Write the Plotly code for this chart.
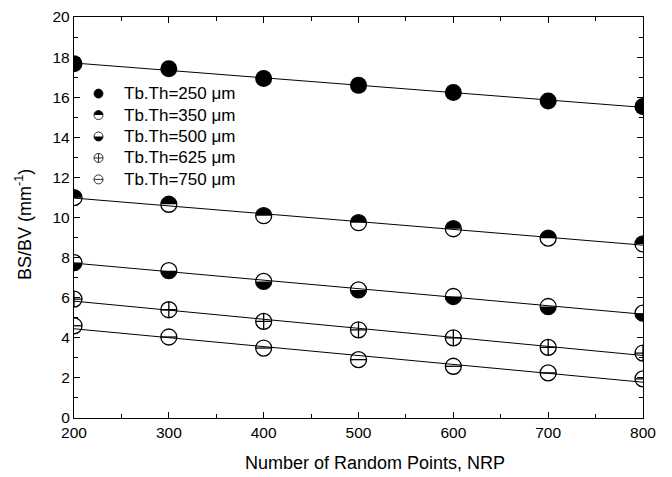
import numpy as np
import plotly.graph_objects as go

# ---- data ----
nrp = [200, 300, 400, 500, 600, 700, 800]
bsbv_250 = [17.67, 17.42, 16.93, 16.59, 16.24, 15.81, 15.53]
bsbv_350 = [10.99, 10.66, 10.09, 9.74, 9.44, 8.97, 8.68]
bsbv_500 = [7.75, 7.35, 6.81, 6.39, 6.06, 5.56, 5.23]
bsbv_625 = [5.93, 5.40, 4.82, 4.40, 4.00, 3.52, 3.24]
bsbv_750 = [4.60, 4.04, 3.49, 2.91, 2.58, 2.25, 1.95]
legend_labels = ["Tb.Th=250 μm", "Tb.Th=350 μm", "Tb.Th=500 μm",
                 "Tb.Th=625 μm", "Tb.Th=750 μm"]
x_ticks = [200, 300, 400, 500, 600, 700, 800]
y_ticks = [0, 2, 4, 6, 8, 10, 12, 14, 16, 18, 20]

series = [bsbv_250, bsbv_350, bsbv_500, bsbv_625, bsbv_750]
styles = ["full", "top", "bottom", "cross", "hline"]

FONT = "Liberation Sans, Arial, sans-serif"
fig = go.Figure()

# fitted lines
for ys in series:
    k, b = np.polyfit(nrp, ys, 1)
    xl = [x_ticks[0], x_ticks[-1]]
    fig.add_trace(go.Scatter(x=xl, y=[k * v + b for v in xl], mode="lines",
                             line=dict(color="black", width=1), showlegend=False,
                             hoverinfo="skip"))

R = 8  # marker radius in px


def half_path(r, top):
    th = np.linspace(0, np.pi, 25)
    sgn = 1 if top else -1
    pts = [(r * np.cos(t), sgn * r * np.sin(t)) for t in th]
    return "M " + " L ".join(f"{px:.2f},{py:.2f}" for px, py in pts) + " Z"


shapes = []
for ys, st, lab in zip(series, styles, legend_labels):
    if st == "full":
        fig.add_trace(go.Scatter(x=nrp, y=ys, mode="markers", name=lab,
                                 marker=dict(symbol="circle", size=2 * R + 1, color="black"),
                                 showlegend=False))
    else:
        sym = "circle-cross-open" if st == "cross" else "circle-open"
        fig.add_trace(go.Scatter(x=nrp, y=ys, mode="markers", name=lab,
                                 marker=dict(symbol=sym, size=2 * R, color="black",
                                             line=dict(width=1.3, color="black")),
                                 showlegend=False))
        if st == "hline":
            # plotly's line-ew half-length is 1.4*r, so shrink to fit the circle
            fig.add_trace(go.Scatter(x=nrp, y=ys, mode="markers", showlegend=False,
                                     marker=dict(symbol="line-ew-open", size=2 * R / 1.4,
                                                 color="black",
                                                 line=dict(width=1.3, color="black"))))
        if st in ("top", "bottom"):
            for xv, yv in zip(nrp, ys):
                shapes.append(dict(type="path", xref="x", yref="y",
                                   xsizemode="pixel", ysizemode="pixel",
                                   xanchor=xv, yanchor=yv,
                                   path=half_path(R - 0.3, st == "top"),
                                   fillcolor="black", line=dict(width=0),
                                   layer="above"))

# ---- custom legend (paper coords) ----
PL, PR, PT, PB = 74, 643, 16.5, 418.5
pw, ph = PR - PL, PB - PT
leg_x_px = 98.5
leg_text_px = 122
leg_y_px = [93.3, 114.8, 136.3, 157.8, 179.3]
r = 4.5
annotations = []
for lab, st, lyp in zip(legend_labels, styles, leg_y_px):
    xa = (leg_x_px - PL) / pw
    ya = (PB - lyp) / ph
    base = dict(xref="paper", yref="paper", xsizemode="pixel", ysizemode="pixel",
                xanchor=xa, yanchor=ya)
    shapes.append(dict(type="circle", x0=-r, x1=r, y0=-r, y1=r,
                       fillcolor="black" if st == "full" else "rgba(0,0,0,0)",
                       line=dict(color="black", width=0.8), **base))
    if st in ("top", "bottom"):
        shapes.append(dict(type="path", path=half_path(r, st == "top"),
                           fillcolor="black", line=dict(width=0), **base))
    if st in ("cross", "hline"):
        shapes.append(dict(type="line", x0=-r, x1=r, y0=0, y1=0,
                           line=dict(color="black", width=0.8), **base))
    if st == "cross":
        shapes.append(dict(type="line", x0=0, x1=0, y0=-r, y1=r,
                           line=dict(color="black", width=0.8), **base))
    annotations.append(dict(xref="paper", yref="paper",
                            x=(leg_text_px - PL) / pw, y=ya,
                            xanchor="left", yanchor="middle", showarrow=False,
                            text=lab, font=dict(family=FONT, size=17, color="black")))

# axis titles
annotations.append(dict(xref="paper", yref="paper", x=(375 - PL) / pw, y=(PB - 464) / ph,
                        xanchor="center", yanchor="middle", showarrow=False,
                        text="Number of Random Points, NRP",
                        font=dict(family=FONT, size=18, color="black")))
annotations.append(dict(xref="paper", yref="paper", x=(24 - PL) / pw, y=(PB - 225) / ph,
                        xanchor="center", yanchor="middle", showarrow=False,
                        textangle=-90, text="BS/BV (mm<sup>-1</sup>)",
                        font=dict(family=FONT, size=18, color="black")))

axis_common = dict(showline=True, linecolor="black", linewidth=1.3, mirror="ticks",
                   ticks="inside", ticklen=6, tickwidth=1.3, tickcolor="black",
                   showgrid=False, zeroline=False, automargin=False,
                   tickfont=dict(family=FONT, size=15.5, color="black"))

fig.update_layout(
    width=672, height=477,
    margin=dict(l=PL, r=672 - PR, t=PT, b=477 - PB, pad=0),
    paper_bgcolor="white", plot_bgcolor="white",
    showlegend=False,
    shapes=shapes, annotations=annotations,
    xaxis=dict(range=[200, 800], tickvals=x_ticks,
               minor=dict(dtick=50, ticks="inside", ticklen=3.5, tickwidth=1.3,
                          tickcolor="black"),
               **axis_common),
    yaxis=dict(range=[0, 20], tickvals=y_ticks,
               minor=dict(dtick=1, ticks="inside", ticklen=3.5, tickwidth=1.3,
                          tickcolor="black"),
               **axis_common),
)

fig.write_html("out.html",
               config={"displayModeBar": False},
               post_script="document.body.style.margin='0';"
                           "document.body.style.overflow='hidden';")
